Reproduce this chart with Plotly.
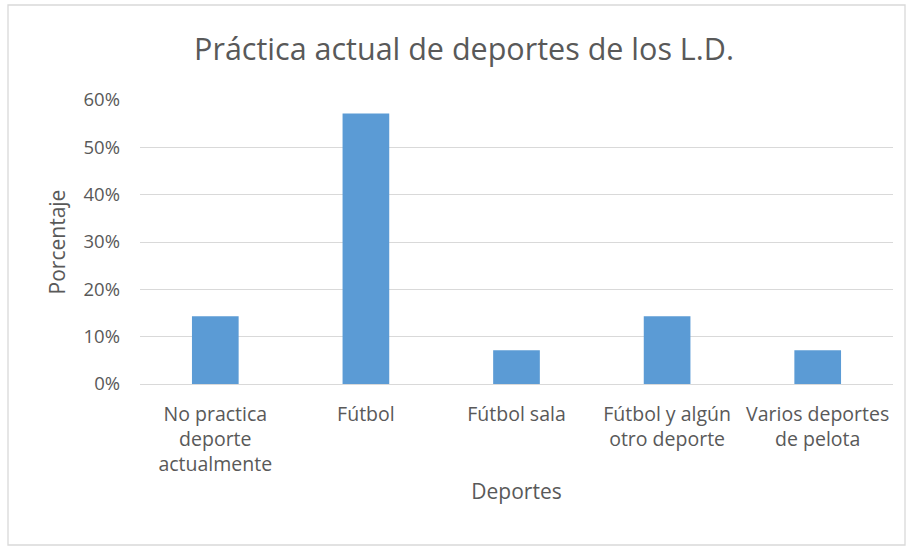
import plotly.graph_objects as go

# Datos del gráfico
categorias = [
    "No practica<br>deporte<br>actualmente",
    "Fútbol",
    "Fútbol sala",
    "Fútbol y algún<br>otro deporte",
    "Varios deportes<br>de pelota",
]
porcentajes = [14.29, 57.14, 7.14, 14.29, 7.14]
ticks_y = [0, 10, 20, 30, 40, 50, 60]
etiquetas_y = ["0%", "10%", "20%", "30%", "40%", "50%", "60%"]

FUENTE = "Open Sans, sans-serif"
GRIS = "#595959"

fig = go.Figure(
    go.Bar(
        x=categorias,
        y=porcentajes,
        marker=dict(color="#5B9BD5", line=dict(width=0)),
        hoverinfo="skip",
    )
)

W, H = 908, 550
ML, MR, MT, MB = 140, 15, 100, 166
pw, ph = W - ML - MR, H - MT - MB


def px_x(p):
    return (p - ML) / pw


def px_y(p):
    return (H - MB - p) / ph


fig.update_layout(
    width=W,
    height=H,
    margin=dict(l=ML, r=MR, t=MT, b=MB),
    paper_bgcolor="white",
    plot_bgcolor="white",
    bargap=0.69,
    showlegend=False,
    font=dict(family=FUENTE, color=GRIS),
    title=dict(
        text="Práctica actual de deportes de los L.D.",
        xref="container", x=464 / W, xanchor="center",
        yref="container", y=1 - 49 / H, yanchor="middle",
        font=dict(size=30.5, color=GRIS, family=FUENTE),
    ),
    xaxis=dict(
        title=dict(text="Deportes", font=dict(size=21, color=GRIS), standoff=8),
        tickfont=dict(size=19.5, color=GRIS),
        ticklabelstandoff=16,
        showgrid=False,
        showline=False,
        ticks="",
        fixedrange=True,
    ),
    yaxis=dict(
        range=[0, 60],
        tickvals=ticks_y,
        ticktext=etiquetas_y,
        tickfont=dict(size=18.5, color=GRIS),
        title=dict(text="Porcentaje", font=dict(size=21, color=GRIS), standoff=12),
        showgrid=True,
        gridcolor="#D9D9D9",
        gridwidth=1.3,
        zeroline=True,
        zerolinecolor="#D9D9D9",
        zerolinewidth=1.3,
        showline=False,
        ticks="",
        ticklabelstandoff=19,
        fixedrange=True,
    ),
    shapes=[
        dict(
            type="rect", xref="paper", yref="paper",
            x0=px_x(8), x1=px_x(905), y0=px_y(545), y1=px_y(5),
            line=dict(color="#D9D9D9", width=1.3),
            fillcolor="rgba(0,0,0,0)", layer="below",
        )
    ],
)

fig.write_html("out.html", config={"displayModeBar": False})
